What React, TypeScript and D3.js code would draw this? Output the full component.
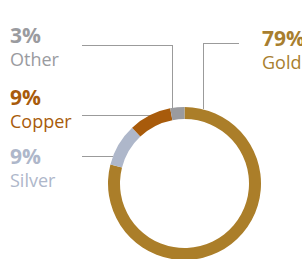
import React from "react";
import * as d3 from "d3";

const CATEGORIES = ["Gold", "Silver", "Copper", "Other"];
const VALUES = [79, 9, 9, 3];
const COLORS = ["#ab7e29", "#aeb7ca", "#a85b0b", "#9a9b9f"];
const TEXT_COLORS = ["#a87e2e", "#aeb7ca", "#a85b0b", "#9a9b9f"];

const W = 302, H = 259;
const CX = 184.5, CY = 183.5, R_OUT = 76.5, R_IN = 64.5;
const FONT = "'Open Sans', sans-serif";

// label layout: text anchor + elbow line
const LABELS: Record<string, { x: number; y: number; lineY: number; lineX0: number; elbowX?: number }> = {
  Gold:   { x: 262, y: 46,  lineY: 43,  lineX0: 239, elbowX: 203 },
  Other:  { x: 10,  y: 43,  lineY: 45,  lineX0: 82,  elbowX: 172 },
  Copper: { x: 10,  y: 105, lineY: 115, lineX0: 82 },
  Silver: { x: 10,  y: 164, lineY: 156, lineX0: 82 },
};

export default function App() {
  const pie = d3.pie<number>().sort(null).value(d => d);
  const arcs = pie(VALUES);
  const arc = d3.arc<d3.PieArcDatum<number>>().innerRadius(R_IN).outerRadius(R_OUT);

  const leader = (name: string) => {
    const l = LABELS[name];
    if (l.elbowX !== undefined) {
      const yEdge = CY - Math.sqrt(R_OUT * R_OUT - (l.elbowX - CX) ** 2);
      return `M${l.lineX0},${l.lineY}H${l.elbowX}V${yEdge}`;
    }
    const xEdge = CX - Math.sqrt(R_OUT * R_OUT - (l.lineY - CY) ** 2);
    return `M${l.lineX0},${l.lineY}H${xEdge}`;
  };

  return (
    <svg width={W} height={H} style={{ position: "absolute", left: 0, top: 0, display: "block" }}>
      <g>
        {CATEGORIES.map(c => (
          <path key={c} d={leader(c)} fill="none" stroke="#9b9b9b" strokeWidth={1} shapeRendering="crispEdges" />
        ))}
      </g>
      <g transform={`translate(${CX},${CY})`}>
        {arcs.map((a, i) => (
          <path key={CATEGORIES[i]} d={arc(a) || ""} fill={COLORS[i]} />
        ))}
      </g>
      <g fontFamily={FONT}>
        {CATEGORIES.map((c, i) => {
          const l = LABELS[c];
          return (
            <g key={c} fill={TEXT_COLORS[i]}>
              <text x={l.x} y={l.y} fontSize={21} fontWeight={700}>{VALUES[i]}%</text>
              <text x={l.x} y={l.y + 23} fontSize={18}>{c}</text>
            </g>
          );
        })}
      </g>
    </svg>
  );
}
